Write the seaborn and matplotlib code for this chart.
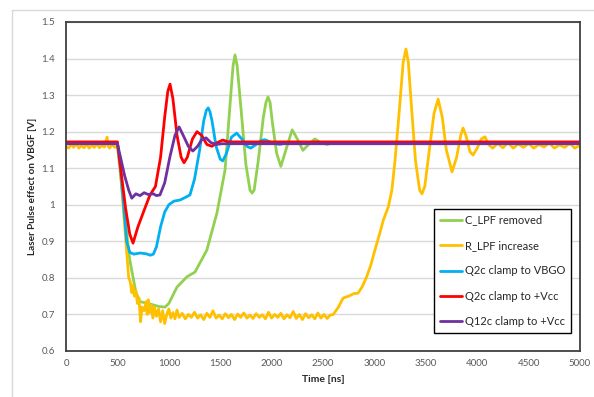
import numpy as np
import pandas as pd
import matplotlib
matplotlib.use("Agg")
import matplotlib.pyplot as plt
import seaborn as sns
from matplotlib.lines import Line2D
from matplotlib.ticker import FuncFormatter

# ---------------- data ----------------
series_names = ["C_LPF removed", "R_LPF increase", "Q2c clamp to VBGO",
                "Q2c clamp to +Vcc", "Q12c clamp to +Vcc"]
series_colors = ["#92D050", "#FFC000", "#00B0F0", "#FF0000", "#7030A0"]

green_t = [0, 480, 500, 560, 620, 680, 720, 800, 900, 963,
           1000, 1080, 1177, 1255, 1370, 1468, 1547, 1600, 1625, 1644,
           1665, 1700, 1750, 1790, 1810, 1830, 1870, 1920, 1945, 1965,
           1985, 2010, 2050, 2090, 2150, 2200, 2250, 2305, 2360, 2420,
           2480, 2540, 2600, 5000]
green_v = [1.17, 1.17, 1.165, 1.0, 0.85, 0.76, 0.735, 0.73, 0.722, 0.72,
           0.73, 0.775, 0.803, 0.816, 0.876, 0.977, 1.095, 1.29, 1.38, 1.41,
           1.38, 1.27, 1.11, 1.04, 1.032, 1.04, 1.12, 1.24, 1.28, 1.295,
           1.28, 1.22, 1.14, 1.105, 1.16, 1.205, 1.18, 1.149, 1.165, 1.18,
           1.17, 1.165, 1.17, 1.17]

yellow_t = [0, 25, 50, 75, 100, 125, 150, 175, 200, 225,
            250, 275, 300, 325, 350, 375, 400, 410, 425, 450,
            475, 500, 530, 560, 590, 610, 625, 640, 650, 665,
            680, 695, 710, 725, 740, 760, 780, 790, 800, 815,
            830, 845, 860, 880, 900, 920, 940, 960, 980, 1000,
            1020, 1040, 1060, 1080, 1100, 1130, 1160, 1190, 1220, 1250,
            1280, 1310, 1340, 1370, 1400, 1430, 1460, 1490, 1520, 1550,
            1580, 1610, 1640, 1670, 1700, 1730, 1760, 1790, 1820, 1850,
            1880, 1910, 1940, 1970, 2000, 2030, 2060, 2090, 2120, 2150,
            2180, 2210, 2240, 2270, 2300, 2330, 2360, 2390, 2420, 2450,
            2480, 2510, 2540, 2568, 2600, 2650, 2696, 2750, 2800, 2840,
            2880, 2925, 2965, 3005, 3050, 3087, 3135, 3170, 3200, 3240,
            3280, 3307, 3330, 3360, 3400, 3440, 3463, 3490, 3530, 3580,
            3620, 3660, 3700, 3755, 3800, 3840, 3862, 3890, 3930, 3960,
            4000, 4040, 4076, 4110, 4150, 4200, 4250, 4300, 4350, 4400,
            4450, 4500, 4550, 4600, 4650, 4700, 4750, 4800, 4850, 4900,
            4950, 5000]
yellow_v = [1.16, 1.155, 1.165, 1.157, 1.168, 1.155, 1.162, 1.156, 1.166, 1.155,
            1.163, 1.157, 1.167, 1.156, 1.162, 1.158, 1.185, 1.16, 1.155, 1.165,
            1.157, 1.16, 1.10, 0.98, 0.87, 0.80, 0.79, 0.76, 0.78, 0.75,
            0.765, 0.73, 0.745, 0.68, 0.72, 0.71, 0.735, 0.70, 0.74, 0.705,
            0.725, 0.69, 0.72, 0.695, 0.715, 0.68, 0.71, 0.675, 0.70, 0.715,
            0.69, 0.705, 0.688, 0.712, 0.692, 0.703, 0.688, 0.700, 0.692, 0.706,
            0.690, 0.699, 0.686, 0.703, 0.692, 0.710, 0.690, 0.698, 0.688, 0.702,
            0.691, 0.700, 0.686, 0.701, 0.692, 0.704, 0.690, 0.698, 0.689, 0.702,
            0.692, 0.699, 0.688, 0.706, 0.690, 0.700, 0.692, 0.703, 0.688, 0.699,
            0.691, 0.708, 0.689, 0.700, 0.686, 0.702, 0.691, 0.699, 0.688, 0.704,
            0.690, 0.700, 0.689, 0.698, 0.70, 0.72, 0.745, 0.75, 0.757, 0.758,
            0.775, 0.803, 0.835, 0.876, 0.92, 0.958, 0.994, 1.04, 1.12, 1.25,
            1.39, 1.426, 1.39, 1.27, 1.12, 1.04, 1.03, 1.05, 1.14, 1.25,
            1.289, 1.24, 1.15, 1.09, 1.13, 1.19, 1.21, 1.19, 1.145, 1.136,
            1.155, 1.18, 1.186, 1.165, 1.155, 1.168, 1.156, 1.17, 1.155, 1.166,
            1.157, 1.168, 1.155, 1.165, 1.158, 1.169, 1.155, 1.164, 1.157, 1.168,
            1.155, 1.163]

blue_t = [0, 500, 530, 560, 590, 620, 660, 720, 780, 820,
          850, 880, 920, 960, 1000, 1050, 1109, 1160, 1206, 1250,
          1300, 1340, 1365, 1383, 1400, 1420, 1460, 1500, 1525, 1560,
          1610, 1660, 1710, 1760, 1797, 1850, 1900, 1935, 2000, 2080,
          2150, 5000]
blue_v = [1.17, 1.17, 1.10, 1.0, 0.90, 0.87, 0.865, 0.868, 0.866, 0.862,
          0.865, 0.885, 0.94, 0.98, 1.0, 1.01, 1.013, 1.02, 1.027, 1.07,
          1.15, 1.23, 1.258, 1.265, 1.255, 1.23, 1.16, 1.125, 1.12, 1.14,
          1.185, 1.196, 1.18, 1.16, 1.155, 1.165, 1.176, 1.178, 1.17, 1.165,
          1.17, 1.17]

red_t = [0, 500, 540, 580, 620, 652, 700, 760, 817, 870,
         920, 960, 990, 1012, 1040, 1080, 1120, 1148, 1180, 1230,
         1274, 1320, 1370, 1420, 1470, 1525, 1580, 5000]
red_v = [1.172, 1.172, 1.08, 0.99, 0.92, 0.895, 0.94, 0.985, 1.027, 1.05,
         1.13, 1.24, 1.31, 1.33, 1.29, 1.19, 1.13, 1.115, 1.13, 1.18,
         1.20, 1.19, 1.165, 1.16, 1.17, 1.177, 1.172, 1.172]

purple_t = [0, 500, 530, 570, 610, 640, 680, 720, 760, 800,
            850, 880, 914, 960, 1010, 1060, 1100, 1140, 1190, 1234,
            1280, 1320, 1362, 1410, 1460, 1520, 5000]
purple_v = [1.167, 1.167, 1.13, 1.08, 1.04, 1.018, 1.03, 1.025, 1.033, 1.028,
            1.03, 1.025, 1.027, 1.06, 1.13, 1.19, 1.213, 1.19, 1.16, 1.147,
            1.16, 1.178, 1.183, 1.17, 1.165, 1.167, 1.167]

x_ticks = [0, 500, 1000, 1500, 2000, 2500, 3000, 3500, 4000, 4500, 5000]
y_ticks = [0.6, 0.7, 0.8, 0.9, 1.0, 1.1, 1.2, 1.3, 1.4, 1.5]
x_label = "Time [ns]"
y_label = "Laser Pulse effect on VBGF [V]"

# ---------------- build long-form table ----------------
frames = []
for name, t, v in zip(series_names,
                      [green_t, yellow_t, blue_t, red_t, purple_t],
                      [green_v, yellow_v, blue_v, red_v, purple_v]):
    frames.append(pd.DataFrame({"Time": t, "Value": v, "Series": name}))
df = pd.concat(frames, ignore_index=True)

sns.set_theme(style="white")
plt.rcParams["font.family"] = ["Lato", "DejaVu Sans"]

fig = plt.figure(figsize=(5.94, 3.97), dpi=100)
ax = fig.add_axes([66 / 594, 1 - 351 / 397, 514 / 594, 329 / 397])

palette = dict(zip(series_names, series_colors))
sns.lineplot(data=df, x="Time", y="Value", hue="Series", hue_order=series_names,
             palette=palette, estimator=None, sort=False,
             linewidth=2.0, ax=ax, legend=False)

ax.set_xlim(0, 5000)
ax.set_ylim(0.6, 1.5)
ax.set_xticks(x_ticks)
ax.set_yticks(y_ticks)
ax.yaxis.set_major_formatter(FuncFormatter(lambda v, p: f"{v:g}"))
ax.grid(axis="y", color="#D9D9D9", linewidth=1.0)
ax.grid(axis="x", visible=False)
ax.set_axisbelow(True)
for s in ax.spines.values():
    s.set_color("#404040")
    s.set_linewidth(1.3)
ax.tick_params(axis="x", direction="in", length=3, width=0.8, color="#404040",
               labelsize=7, labelcolor="#595959", pad=6)
ax.tick_params(axis="y", direction="in", length=3, width=0.8, color="#404040",
               labelsize=7, labelcolor="#595959", pad=8)
ax.set_xlabel(x_label, fontsize=7.5, fontweight="bold", color="#262626", labelpad=5)
ax.set_ylabel(y_label, fontsize=7.2, fontweight="bold", color="#262626", labelpad=3)

handles = [Line2D([0], [0], color=c, lw=2.0) for c in series_colors]
leg = ax.legend(handles, series_names, loc="upper left",
                bbox_to_anchor=(0.716, 0.4316), borderaxespad=0, fontsize=8,
                frameon=True, fancybox=False, edgecolor="black", framealpha=1,
                handlelength=2.0, handletextpad=0.25, labelspacing=1.3,
                borderpad=0.5)
leg.get_frame().set_linewidth(1.0)
for txt in leg.get_texts():
    txt.set_color("#262626")

# outer chart-area border
fig.add_artist(Line2D([12 / 594, 12 / 594], [0, 1 - 10 / 397], color="#D9D9D9",
                      lw=1.0, transform=fig.transFigure))
fig.add_artist(Line2D([12 / 594, 1.0], [1 - 10 / 397, 1 - 10 / 397], color="#D9D9D9",
                      lw=1.0, transform=fig.transFigure))

fig.savefig("out.png", dpi=100)
